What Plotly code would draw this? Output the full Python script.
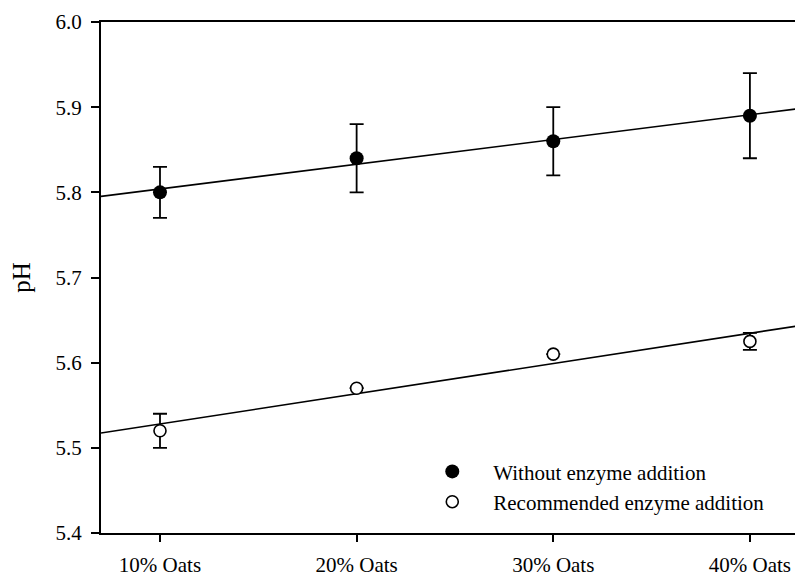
import numpy as np
import plotly.graph_objects as go

# pH of the doughs at each oat level
categories = ["10% Oats", "20% Oats", "30% Oats", "40% Oats"]
ph_without = [5.80, 5.84, 5.86, 5.89]
err_without = [0.03, 0.04, 0.04, 0.05]
ph_recommended = [5.52, 5.57, 5.61, 5.625]
err_recommended = [0.02, None, None, 0.01]

x_pos = np.arange(len(categories))
x_range = [-0.3, 3.27]

FONT = "Liberation Serif"

fig = go.Figure()

# regression lines across the whole axis
for ys in (ph_without, ph_recommended):
    k, b = np.polyfit(x_pos, ys, 1)
    xs = np.array(x_range)
    fig.add_trace(go.Scatter(x=xs, y=k * xs + b, mode="lines",
                             line=dict(color="black", width=1.6),
                             showlegend=False, hoverinfo="skip"))

fig.add_trace(go.Scatter(
    x=x_pos, y=ph_without, mode="markers", name="Without enzyme addition",
    marker=dict(symbol="circle", size=14, color="black"),
    error_y=dict(type="data", array=err_without, color="black", thickness=1.8, width=7),
))
fig.add_trace(go.Scatter(
    x=x_pos, y=ph_recommended, mode="markers", name="Recommended enzyme addition",
    marker=dict(symbol="circle", size=12, color="white", line=dict(color="black", width=1.6)),
    error_y=dict(type="data", array=err_recommended, color="black", thickness=1.8, width=7),
))

# page body has an 8px margin, so the figure is 8px smaller than the window
fig.update_layout(
    width=795, height=568,
    margin=dict(l=93, r=0, t=14, b=43),
    paper_bgcolor="white", plot_bgcolor="white",
    font=dict(family=FONT, size=21, color="black"),
    legend=dict(x=0.442, y=0.16, xanchor="left", yanchor="top",
                bgcolor="rgba(0,0,0,0)", font=dict(size=21),
                itemwidth=72, tracegroupgap=0),
)
fig.update_xaxes(
    range=x_range, tickmode="array", tickvals=x_pos, ticktext=categories,
    showline=True, linecolor="black", linewidth=2, mirror=True,
    ticks="outside", ticklen=7, tickwidth=2, tickcolor="black",
    ticklabelstandoff=5, automargin=False,
    showgrid=False, zeroline=False,
)
fig.update_yaxes(
    range=[5.4, 6.0], dtick=0.1, tickformat=".1f",
    showline=True, linecolor="black", linewidth=2,
    ticks="outside", ticklen=8, tickwidth=2, tickcolor="black",
    ticklabelstandoff=5, automargin=False,
    showgrid=False, zeroline=False,
    title=dict(text="pH", standoff=19),
)

fig.write_html("out.html")
